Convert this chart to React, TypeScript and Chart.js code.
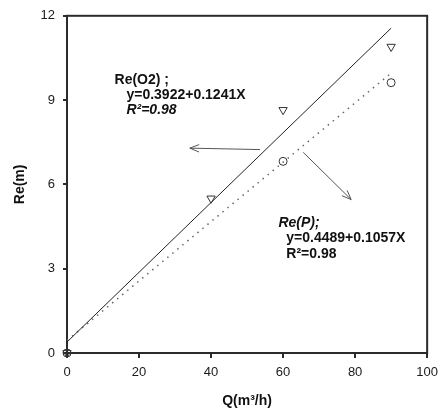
import React, { useEffect, useRef } from "react";
import { Chart, registerables } from "chart.js";

Chart.register(...registerables);

// ---- data ----
const O2_X = [0, 40, 60, 90];
const O2_Y = [0, 5.5, 8.65, 10.9];
const P_X = [0, 60, 90];
const P_Y = [0, 6.82, 9.62];
const O2_FIT_X = [0, 90];
const O2_FIT_Y = [0.39, 11.56];
const P_FIT_X = [0, 90];
const P_FIT_Y = [0.45, 9.96];
const X_TICKS = [0, 20, 40, 60, 80, 100];
const Y_TICKS = [0, 3, 6, 9, 12];
const X_TITLE = "Q(m³/h)";
const Y_TITLE = "Re(m)";
const LABEL_O2 = ["Re(O2) ;", "y=0.3922+0.1241X", "R²=0.98"];
const LABEL_P = ["Re(P);", "y=0.4489+0.1057X", "R²=0.98"];

const FONT = "Arial, 'Liberation Sans', Helvetica, sans-serif";
const AXIS_COLOR = "#2b2b2b";

const toPts = (xs: number[], ys: number[]) => xs.map((x, i) => ({ x, y: ys[i] }));

// annotation anchors in data coordinates
const O2_TEXT_POS = [
  { x: 13.2, y: 9.57, italic: false },
  { x: 16.5, y: 9.04, italic: false },
  { x: 16.5, y: 8.51, italic: true },
];
const P_TEXT_POS = [
  { x: 58.7, y: 4.48, italic: true },
  { x: 60.9, y: 3.95, italic: false },
  { x: 60.9, y: 3.39, italic: false },
];
const ARROWS = [
  { from: { x: 53.6, y: 7.24 }, to: { x: 34.1, y: 7.29 } },
  { from: { x: 65.6, y: 7.14 }, to: { x: 78.9, y: 5.46 } },
];

const framePlugin = {
  id: "frame",
  beforeDatasetsDraw(chart: any) {
    const { ctx, chartArea } = chart;
    ctx.save();
    ctx.strokeStyle = AXIS_COLOR;
    ctx.lineWidth = 2;
    ctx.strokeRect(chartArea.left, chartArea.top, chartArea.right - chartArea.left, chartArea.bottom - chartArea.top);
    ctx.restore();
  },
};

const annotationPlugin = {
  id: "annotations",
  afterDraw(chart: any) {
    const { ctx, scales } = chart;
    const xs = scales.x;
    const ys = scales.y;
    ctx.save();
    ctx.fillStyle = "#111";
    ctx.textBaseline = "alphabetic";
    ctx.textAlign = "left";
    const drawBlock = (lines: string[], pos: any[]) => {
      lines.forEach((t, i) => {
        const p = pos[i];
        ctx.font = `${p.italic ? "italic " : ""}bold 14px ${FONT}`;
        ctx.fillText(t, xs.getPixelForValue(p.x), ys.getPixelForValue(p.y));
      });
    };
    drawBlock(LABEL_O2, O2_TEXT_POS);
    drawBlock(LABEL_P, P_TEXT_POS);

    ctx.strokeStyle = "#555";
    ctx.lineWidth = 1;
    ARROWS.forEach((a) => {
      const x1 = xs.getPixelForValue(a.from.x);
      const y1 = ys.getPixelForValue(a.from.y);
      const x2 = xs.getPixelForValue(a.to.x);
      const y2 = ys.getPixelForValue(a.to.y);
      ctx.beginPath();
      ctx.moveTo(x1, y1);
      ctx.lineTo(x2, y2);
      const ang = Math.atan2(y2 - y1, x2 - x1);
      const len = 10;
      const spread = 0.38;
      ctx.moveTo(x2 - len * Math.cos(ang - spread), y2 - len * Math.sin(ang - spread));
      ctx.lineTo(x2, y2);
      ctx.lineTo(x2 - len * Math.cos(ang + spread), y2 - len * Math.sin(ang + spread));
      ctx.stroke();
    });
    ctx.restore();
  },
};

export default function App() {
  const ref = useRef<HTMLCanvasElement | null>(null);

  useEffect(() => {
    if (!ref.current) return;
    const chart = new Chart(ref.current, {
      type: "scatter",
      data: {
        datasets: [
          {
            label: "Re(O2)",
            data: toPts(O2_X, O2_Y),
            pointStyle: "triangle",
            rotation: 180,
            pointRadius: 4.8,
            backgroundColor: "rgba(255,255,255,0)",
            borderColor: "#333",
            borderWidth: 1,
            showLine: false,
            clip: false,
          },
          {
            label: "Re(P)",
            data: toPts(P_X, P_Y),
            pointStyle: "circle",
            pointRadius: 4,
            backgroundColor: "rgba(255,255,255,0)",
            borderColor: "#333",
            borderWidth: 1,
            showLine: false,
            clip: false,
          },
          {
            label: "fit O2",
            data: toPts(O2_FIT_X, O2_FIT_Y),
            showLine: true,
            pointRadius: 0,
            borderColor: "#222",
            borderWidth: 1,
          },
          {
            label: "fit P",
            data: toPts(P_FIT_X, P_FIT_Y),
            showLine: true,
            pointRadius: 0,
            borderColor: "#666",
            borderWidth: 1.5,
            borderDash: [1.5, 5],
          },
        ],
      },
      options: {
        responsive: false,
        animation: false,
        devicePixelRatio: 1,
        layout: { padding: { top: 13, right: 15, left: 0, bottom: 0 } },
        plugins: { legend: { display: false }, tooltip: { enabled: false } },
        scales: {
          x: {
            type: "linear",
            min: 0,
            max: 100,
            afterBuildTicks: (s: any) => {
              s.ticks = X_TICKS.map((v) => ({ value: v }));
            },
            afterFit: (s: any) => {
              s.height = 64;
            },
            grid: {
              drawOnChartArea: false,
              drawTicks: true,
              tickLength: 5,
              color: AXIS_COLOR,
              lineWidth: 2,
            },
            border: { display: true, color: AXIS_COLOR, width: 2 },
            ticks: {
              color: "#1a1a1a",
              padding: 7,
              maxRotation: 0,
              font: { family: FONT, size: 13 },
            },
            title: {
              display: true,
              text: X_TITLE,
              color: "#111",
              font: { family: FONT, size: 14, weight: "bold" },
              padding: { top: 0, bottom: 7 },
            },
          },
          y: {
            type: "linear",
            min: 0,
            max: 12,
            afterBuildTicks: (s: any) => {
              s.ticks = Y_TICKS.map((v) => ({ value: v }));
            },
            afterFit: (s: any) => {
              s.width = 67;
            },
            grid: {
              drawOnChartArea: false,
              drawTicks: true,
              tickLength: 4,
              color: AXIS_COLOR,
              lineWidth: 2,
            },
            border: { display: true, color: AXIS_COLOR, width: 2 },
            ticks: {
              color: "#1a1a1a",
              padding: 8,
              font: { family: FONT, size: 13 },
            },
            title: {
              display: true,
              text: Y_TITLE,
              color: "#111",
              font: { family: FONT, size: 14, weight: "bold" },
              padding: { top: 12, bottom: 0 },
            },
          },
        },
      },
      plugins: [framePlugin, annotationPlugin],
    });
    return () => chart.destroy();
  }, []);

  return (
    <div style={{ position: "fixed", left: 0, top: 0, width: 445, height: 417, background: "#fff" }}>
      <canvas ref={ref} width={445} height={417} />
    </div>
  );
}
